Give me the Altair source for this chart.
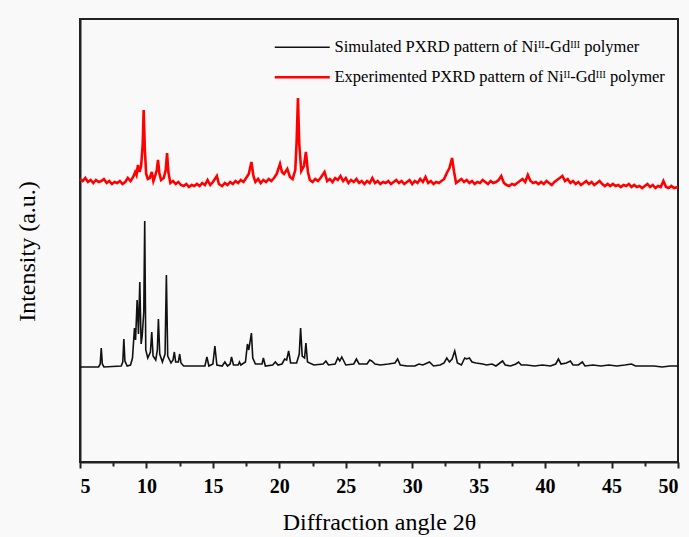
import altair as alt
import pandas as pd

SIM_LABEL = "Simulated PXRD pattern of Niᴵᴵ-Gdᴵᴵᴵ polymer"
EXP_LABEL = "Experimented PXRD pattern of Niᴵᴵ-Gdᴵᴵᴵ polymer"

x_ticks = [5, 7.5, 10, 12.5, 15, 17.5, 20, 22.5, 25, 27.5, 30, 32.5, 35,
           37.5, 40, 42.5, 45, 47.5, 50]

# Simulated pattern (2θ, intensity a.u.)
sim_pts = [
    (5.0, 95), (6.4, 95), (6.52, 98), (6.6, 114), (6.68, 98), (6.8, 95),
    (8.1, 96), (8.22, 100), (8.3, 123), (8.38, 101), (8.55, 96), (8.8, 97),
    (8.95, 104), (9.1, 134), (9.18, 122), (9.3, 162), (9.4, 128), (9.5, 180),
    (9.6, 118), (9.68, 126), (9.8, 150), (9.87, 241), (9.95, 112), (10.1, 104),
    (10.3, 110), (10.4, 130), (10.5, 106), (10.7, 102), (10.82, 112), (10.9, 143),
    (11.0, 108), (11.2, 100), (11.4, 108), (11.5, 187), (11.6, 106), (11.85, 99),
    (12.0, 102), (12.1, 110), (12.2, 100), (12.4, 100), (12.5, 108), (12.6, 99),
    (12.8, 96), (14.4, 96), (14.55, 105), (14.7, 96), (15.0, 98), (15.15, 116),
    (15.3, 97), (15.7, 96), (15.9, 100), (16.1, 96), (16.3, 98), (16.4, 105),
    (16.55, 97), (16.9, 97), (17.0, 100), (17.1, 97), (17.45, 100), (17.6, 118),
    (17.7, 112), (17.9, 129), (18.0, 104), (18.2, 98), (18.7, 98), (18.8, 104),
    (18.95, 96), (19.5, 97), (19.7, 100), (19.9, 97), (20.2, 98), (20.4, 103),
    (20.55, 102), (20.7, 111), (20.85, 99), (21.3, 99), (21.5, 108), (21.6, 134),
    (21.72, 106), (21.9, 104), (22.0, 119), (22.12, 100), (22.6, 97), (23.3, 98),
    (23.5, 101), (23.7, 97), (24.2, 98), (24.4, 104), (24.55, 101), (24.7, 105),
    (24.85, 101), (25.0, 97), (25.6, 98), (25.8, 103), (26.0, 98), (26.6, 98),
    (26.8, 102), (26.95, 101), (27.2, 98), (27.6, 97), (28.2, 98), (28.7, 99),
    (28.9, 103), (29.1, 97), (29.6, 96), (30.2, 96), (30.5, 98), (30.8, 97),
    (31.3, 100), (31.6, 96), (32.1, 97), (32.4, 99), (32.6, 104), (32.8, 100),
    (33.0, 103), (33.2, 111), (33.4, 99), (33.7, 97), (33.95, 104), (34.1, 103),
    (34.3, 104), (34.5, 100), (34.8, 99), (35.3, 98), (35.6, 97), (36.0, 98),
    (36.3, 96), (36.8, 101), (37.0, 97), (37.4, 96), (37.8, 98), (38.0, 100),
    (38.2, 97), (38.6, 97), (39.2, 96), (39.8, 97), (40.4, 96), (40.8, 98),
    (41.0, 103), (41.2, 98), (41.6, 99), (41.9, 101), (42.1, 97), (42.5, 97),
    (42.8, 100), (43.0, 96), (43.6, 97), (44.2, 96), (44.8, 97), (45.4, 96),
    (46.0, 97), (46.5, 98), (46.8, 96), (47.5, 96), (48.2, 96), (48.8, 95),
    (49.4, 96), (50.0, 96),
]

exp_pts = [
    (5.0, 283), (5.2, 281), (5.4, 284), (5.6, 280), (5.8, 282), (6.0, 279),
    (6.2, 282), (6.4, 280), (6.6, 281), (6.8, 283), (7.0, 279), (7.2, 281),
    (7.4, 278), (7.6, 280), (7.8, 279), (8.0, 281), (8.2, 278), (8.4, 280),
    (8.6, 284), (8.8, 281), (9.0, 285), (9.15, 290), (9.25, 287), (9.36, 297),
    (9.48, 290), (9.6, 296), (9.72, 318), (9.79, 352), (9.88, 312), (9.98, 288),
    (10.1, 283), (10.25, 284), (10.4, 290), (10.52, 281), (10.65, 286), (10.78, 292),
    (10.87, 302), (10.97, 289), (11.1, 282), (11.3, 284), (11.45, 292), (11.55, 309),
    (11.65, 290), (11.8, 279), (12.0, 281), (12.2, 278), (12.4, 280), (12.6, 277),
    (12.8, 276), (13.0, 278), (13.2, 275), (13.4, 277), (13.6, 276), (13.8, 278),
    (14.0, 276), (14.2, 279), (14.4, 277), (14.6, 282), (14.8, 277), (15.0, 280),
    (15.15, 283), (15.3, 286), (15.45, 278), (15.7, 276), (15.9, 279), (16.1, 277),
    (16.3, 280), (16.5, 278), (16.7, 281), (16.9, 279), (17.1, 282), (17.3, 280),
    (17.5, 284), (17.7, 288), (17.9, 300), (18.05, 286), (18.2, 280), (18.4, 283),
    (18.6, 279), (18.8, 282), (19.0, 280), (19.2, 283), (19.4, 281), (19.6, 284),
    (19.8, 288), (20.05, 298), (20.2, 290), (20.35, 288), (20.6, 293), (20.8, 285),
    (21.0, 283), (21.2, 292), (21.3, 320), (21.4, 364), (21.5, 318), (21.65, 291),
    (21.85, 296), (22.0, 310), (22.15, 290), (22.3, 282), (22.5, 280), (22.7, 283),
    (22.9, 281), (23.1, 284), (23.4, 290), (23.6, 281), (23.8, 283), (24.0, 280),
    (24.2, 284), (24.4, 282), (24.6, 286), (24.8, 281), (25.0, 284), (25.2, 279),
    (25.4, 282), (25.6, 280), (25.8, 283), (26.0, 279), (26.2, 281), (26.4, 278),
    (26.6, 281), (26.8, 279), (27.0, 284), (27.2, 279), (27.4, 281), (27.6, 278),
    (27.8, 280), (28.0, 279), (28.2, 281), (28.4, 278), (28.6, 280), (28.8, 282),
    (29.0, 279), (29.2, 281), (29.4, 278), (29.6, 280), (29.8, 282), (30.0, 278),
    (30.2, 281), (30.4, 279), (30.6, 283), (30.8, 280), (31.0, 285), (31.2, 279),
    (31.4, 281), (31.6, 278), (31.8, 280), (32.0, 279), (32.2, 281), (32.4, 283),
    (32.6, 289), (32.8, 294), (33.0, 304), (33.15, 290), (33.3, 279), (33.5, 281),
    (33.7, 283), (33.9, 280), (34.1, 282), (34.3, 279), (34.5, 281), (34.7, 278),
    (34.9, 280), (35.1, 279), (35.3, 282), (35.5, 280), (35.7, 278), (35.9, 281),
    (36.1, 279), (36.3, 280), (36.5, 282), (36.7, 286), (36.9, 279), (37.1, 277),
    (37.3, 276), (37.5, 278), (37.7, 277), (37.9, 279), (38.1, 281), (38.3, 283),
    (38.5, 280), (38.7, 287), (38.9, 281), (39.1, 279), (39.3, 280), (39.5, 278),
    (39.7, 280), (39.9, 278), (40.1, 281), (40.3, 279), (40.5, 277), (40.7, 280),
    (40.9, 282), (41.1, 284), (41.3, 286), (41.5, 281), (41.7, 283), (41.9, 279),
    (42.1, 281), (42.3, 278), (42.5, 280), (42.7, 277), (42.9, 279), (43.1, 281),
    (43.3, 278), (43.5, 280), (43.7, 277), (43.9, 279), (44.1, 281), (44.3, 278),
    (44.5, 276), (44.7, 278), (44.9, 276), (45.1, 278), (45.3, 276), (45.5, 277),
    (45.7, 275), (45.9, 277), (46.1, 276), (46.3, 278), (46.5, 275), (46.7, 277),
    (46.9, 275), (47.1, 276), (47.3, 274), (47.5, 276), (47.7, 278), (47.9, 275),
    (48.1, 277), (48.3, 274), (48.5, 276), (48.7, 275), (48.9, 281), (49.1, 275),
    (49.3, 274), (49.5, 276), (49.7, 274), (50.0, 275),
]

sim_df = pd.DataFrame(sim_pts, columns=["theta", "intensity"])
sim_df["series"] = SIM_LABEL
exp_df = pd.DataFrame(exp_pts, columns=["theta", "intensity"])
exp_df["series"] = EXP_LABEL
data = pd.concat([sim_df, exp_df], ignore_index=True)

SERIF = "Liberation Serif"

color = alt.Color(
    "series:N",
    scale=alt.Scale(domain=[SIM_LABEL, EXP_LABEL], range=["#111111", "#ff0000"]),
    legend=alt.Legend(
        title=None,
        orient="none",
        legendX=214,
        legendY=20,
        symbolType="M-5,0H5",
        symbolSize=121,
        symbolStrokeWidth=2,
        labelFont=SERIF,
        labelFontSize=16.5,
        labelColor="black",
        labelOffset=24,
        rowPadding=13,
        padding=0,
        labelLimit=500,
    ),
)

x_enc = alt.X(
    "theta:Q",
    scale=alt.Scale(domain=[5, 50], nice=False, zero=False),
    axis=alt.Axis(
        values=x_ticks,
        labelExpr="datum.value % 5 === 0 ? datum.label : ''",
        format="d",
        title="Diffraction angle 2θ",
        titleFont=SERIF,
        titleFontSize=24,
        titleFontWeight="normal",
        titleColor="black",
        titlePadding=14,
        labelFont=SERIF,
        labelFontSize=20,
        labelFontWeight="bold",
        labelColor="black",
        labelPadding=8,
        labelOverlap=False,
        tickSize={"condition": {"test": "datum.value % 5 === 0", "value": 6}, "value": 4},
        tickWidth=2,
        tickColor="#222222",
        domainColor="#222222",
        domainWidth=2,
        grid=False,
    ),
)

y_enc = alt.Y(
    "intensity:Q",
    scale=alt.Scale(domain=[0, 443], nice=False, zero=False),
    axis=alt.Axis(
        title="Intensity (a.u.)",
        titleFont=SERIF,
        titleFontSize=24,
        titleFontWeight="normal",
        titleColor="black",
        titlePadding=41,
        titleY=232,
        labels=False,
        ticks=False,
        domainColor="#222222",
        domainWidth=2,
        grid=False,
    ),
)

width_enc = alt.StrokeWidth(
    "series:N",
    scale=alt.Scale(domain=[SIM_LABEL, EXP_LABEL], range=[1.6, 2.6]),
    legend=None,
)

chart = (
    alt.Chart(data)
    .mark_line()
    .encode(x=x_enc, y=y_enc, color=color, strokeWidth=width_enc, detail="series:N")
    .properties(
        width=598,
        height=443,
        autosize=alt.AutoSizeParams(type="none"),
        padding={"left": 80, "top": 19, "right": 11, "bottom": 75},
        background="#f9f9f9",
    )
    .configure_view(stroke="#222222", strokeWidth=2)
)

chart.save("out.html", embed_options={"renderer": "svg", "actions": False})
